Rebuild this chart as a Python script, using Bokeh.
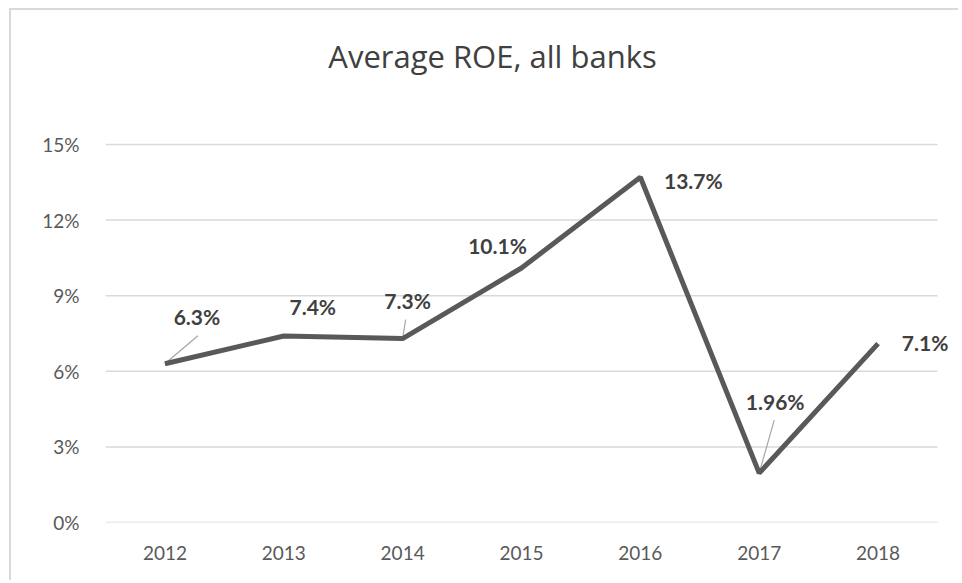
from bokeh.plotting import figure
from bokeh.models import Range1d, FixedTicker, ColumnDataSource, LabelSet, Label
from bokeh.core.properties import value
from bokeh.embed import file_html
from bokeh.resources import INLINE

title_text = "Average ROE, all banks"
years = ["2012", "2013", "2014", "2015", "2016", "2017", "2018"]
roe = [6.3, 7.4, 7.3, 10.1, 13.7, 1.96, 7.1]
roe_labels = ["6.3%", "7.4%", "7.3%", "10.1%", "13.7%", "1.96%", "7.1%"]
y_ticks = [0, 3, 6, 9, 12, 15]

# label placement (pixels, relative to point)
lab_dx = [32, 29, 5, -24, 53, 16, 47]
lab_dy = [47, 30, 38, 22, -3, 72, 1]
# leader lines (pixels)
leader_idx = [0, 2, 5]
leader_dx = [33, 3, 15]
leader_dy = [28, 19, 53]

W, H = 958, 580
FL, FB = 105, 58
FT = 10                            # frame reaches up near the top border
GRID_TOP = 144                     # pixel row of the 15% gridline
GRID_W = 832                       # width of the gridded plot area
px_x = GRID_W / 7.0
px_y = (H - FB - GRID_TOP) / 15.0
x_end = 6.5 + (W - FL - GRID_W) / px_x
y_end = 15 + (GRID_TOP - FT) / px_y

xs = list(range(len(years)))

p = figure(width=W, height=H, output_backend="svg", toolbar_location=None,
           x_range=Range1d(-0.5, x_end), y_range=Range1d(0, y_end),
           min_border_left=FL, min_border_right=0, min_border_top=FT, min_border_bottom=FB)
p.outline_line_color = None
p.background_fill_color = None
p.border_fill_color = None
p.styles = {
    "background": "linear-gradient(#d9d9d9,#d9d9d9) 9px 8px / 100% 2px no-repeat, "
                  "linear-gradient(#d9d9d9,#d9d9d9) 9px 8px / 2px 100% no-repeat, white"
}

p.xgrid.grid_line_color = None
p.ygrid.grid_line_color = None
p.segment([-0.5] * len(y_ticks), y_ticks, [6.5] * len(y_ticks), y_ticks,
          line_color="#d9d9d9", line_width=1.5)

p.xaxis.ticker = FixedTicker(ticks=xs)
p.xaxis.major_label_overrides = {i: y for i, y in enumerate(years)}
p.yaxis.ticker = FixedTicker(ticks=y_ticks)
p.yaxis.major_label_overrides = {t: f"{t}%" for t in y_ticks}
for ax in (p.xaxis, p.yaxis):
    ax.axis_line_color = None
    ax.major_tick_line_color = None
    ax.minor_tick_line_color = None
    ax.major_label_text_font = "Lato"
    ax.major_label_text_font_size = "19px"
    ax.major_label_text_color = "#595959"
p.yaxis.major_label_standoff = 20
p.xaxis.major_label_standoff = 17

# leader lines
lx0 = [xs[i] for i in leader_idx]
ly0 = [roe[i] for i in leader_idx]
lx1 = [xs[i] + dx / px_x for i, dx in zip(leader_idx, leader_dx)]
ly1 = [roe[i] + dy / px_y for i, dy in zip(leader_idx, leader_dy)]
p.segment(lx0, ly0, lx1, ly1, line_color="#a6a6a6", line_width=1.2)

p.line(xs, roe, line_color="#595959", line_width=5)

src = ColumnDataSource(dict(x=xs, y=roe, t=roe_labels, dx=lab_dx, dy=lab_dy))
labels = LabelSet(x="x", y="y", text="t", x_offset="dx", y_offset="dy", source=src,
                  text_font=value("Lato"), text_font_style="bold", text_font_size="21px",
                  text_color="#404040", text_align="center", text_baseline="middle")
p.add_layout(labels)

title = Label(x=492 - FL, y=(H - FB) - 55, x_units="screen", y_units="screen",
              text=title_text, text_font="Open Sans", text_font_size="31px",
              text_color="#404040", text_align="center", text_baseline="middle")
p.add_layout(title)

open("out.html", "w").write(file_html(p, INLINE))
